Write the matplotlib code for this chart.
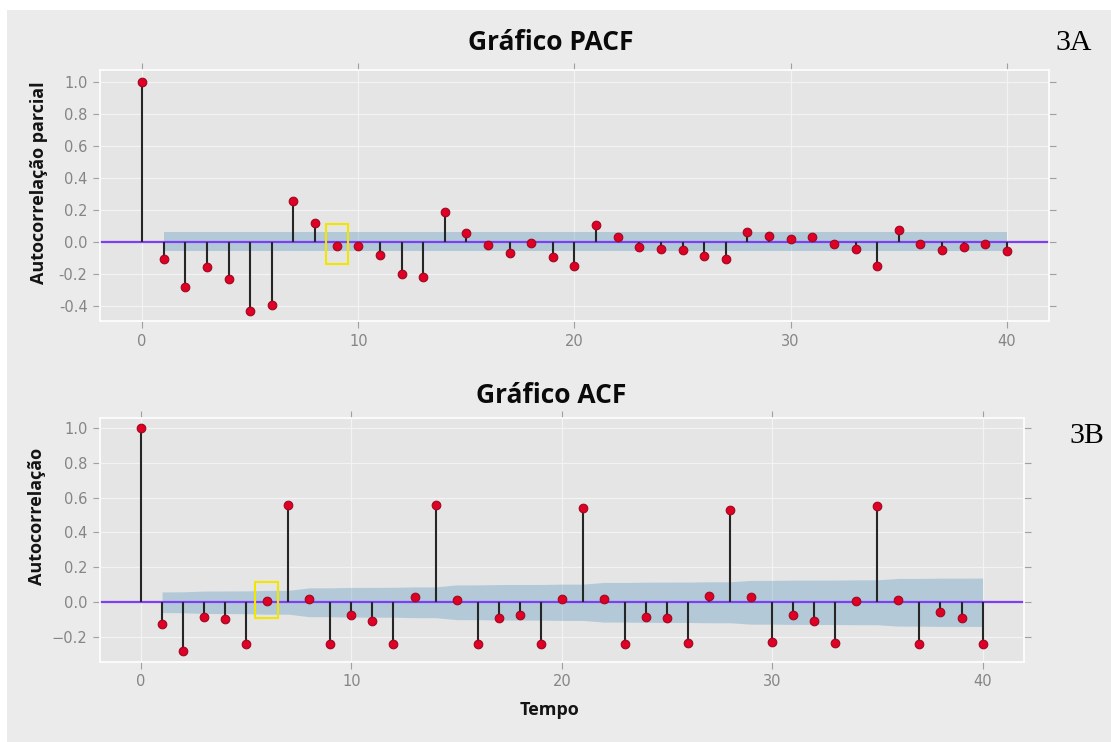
import numpy as np
import matplotlib
matplotlib.use("Agg")
import matplotlib.pyplot as plt
from matplotlib.patches import Rectangle

plt.style.use("ggplot")

# ---- data -------------------------------------------------------------
lags = list(range(0, 41))

pacf_values = [
    1.000, -0.106, -0.283, -0.160, -0.231, -0.435, -0.398, 0.256, 0.115, -0.027,
    -0.027, -0.081, -0.204, -0.221, 0.185, 0.052, -0.019, -0.071, -0.008, -0.097,
    -0.150, 0.106, 0.027, -0.035, -0.044, -0.052, -0.090, -0.106, 0.062, 0.035,
    0.017, 0.027, -0.017, -0.044, -0.150, 0.071, -0.017, -0.052, -0.035, -0.017,
    -0.060,
]

acf_values = [
    1.000, -0.122, -0.279, -0.082, -0.097, -0.240, 0.006, 0.557, 0.021, -0.240,
    -0.074, -0.105, -0.240, 0.029, 0.557, 0.013, -0.240, -0.090, -0.074, -0.240,
    0.021, 0.542, 0.021, -0.240, -0.082, -0.090, -0.233, 0.036, 0.527, 0.029,
    -0.225, -0.074, -0.105, -0.233, 0.006, 0.550, 0.013, -0.240, -0.057, -0.090,
    -0.240,
]

n_obs = 1100          # sample size used for the confidence bands
z_crit = 1.96

pacf_yticks = [-0.4, -0.2, 0.0, 0.2, 0.4, 0.6, 0.8, 1.0]
pacf_yticklabels = ["-0.4", "-0.2", "0.0", "0.2", "0.4", "0.6", "0.8", "1.0"]
acf_yticks = [-0.2, 0.0, 0.2, 0.4, 0.6, 0.8, 1.0]
acf_yticklabels = ["\u22120.2", "0.0", "0.2", "0.4", "0.6", "0.8", "1.0"]
xticks = [0, 10, 20, 30, 40]

pacf_highlight = (8.5, 9.5, -0.14, 0.11)   # x0, x1, y0, y1
acf_highlight = (5.4, 6.5, -0.092, 0.114)

# ---- confidence bands -------------------------------------------------
lag_arr = np.array(lags)
pacf_arr = np.array(pacf_values)
acf_arr = np.array(acf_values)

pacf_conf = np.full(len(lags) - 1, z_crit / np.sqrt(n_obs))
# Bartlett's formula for the ACF band
cum_sq = np.concatenate([[0.0], np.cumsum(acf_arr[1:-1] ** 2)])
acf_conf = z_crit * np.sqrt((1 + 2 * cum_sq) / n_obs)

# ---- figure -----------------------------------------------------------
W, H = 1111, 742
fig = plt.figure(figsize=(W / 100, H / 100), dpi=100, facecolor="white")
backdrop = Rectangle((7 / W, 0), 1 - 7 / W, 1 - 10 / H,
                     transform=fig.transFigure, facecolor="#ebebeb",
                     edgecolor="none", zorder=-10)
fig.add_artist(backdrop)

ax1 = fig.add_axes([100 / W, 1 - 321 / H, 949 / W, 251 / H])
ax2 = fig.add_axes([100 / W, 1 - 662 / H, 923.6 / W, 244.3 / H])

stem_color = "#262626"
dot_face = "#e10025"
dot_edge = "#9a0a22"
zero_color = "#7e3ff2"
band_color = "#1f77b4"


def draw_panel(ax, vals, conf, ylim, yticks, yticklabels):
    ax.set_facecolor("#e5e5e5")
    ax.fill_between(lag_arr[1:], -conf, conf, color=band_color, alpha=0.25,
                    linewidth=0, zorder=1)
    ax.axhline(0, color=zero_color, lw=1.6, zorder=2)
    ax.vlines(lag_arr, 0, vals, colors=stem_color, lw=1.5, zorder=3)
    ax.plot(lag_arr, vals, "o", ms=6.2, mfc=dot_face, mec=dot_edge, mew=0.8,
            zorder=4)
    ax.set_xlim(-1.95, 41.95)
    ax.set_ylim(*ylim)
    ax.set_xticks(xticks)
    ax.set_xticklabels([str(t) for t in xticks])
    ax.set_yticks(yticks)
    ax.set_yticklabels(yticklabels)
    ax.grid(True, color="#f3f3f3", lw=0.9)
    ax.set_axisbelow(True)
    for sp in ax.spines.values():
        sp.set_visible(True)
        sp.set_color("white")
        sp.set_linewidth(1.2)
    ax.tick_params(axis="both", which="both", direction="out", length=5,
                   width=0.8, color="#a0a0a0", labelcolor="#858585",
                   labelsize=10.5, top=True, right=True, labeltop=False,
                   labelright=False, pad=4)


draw_panel(ax1, pacf_arr, pacf_conf, (-0.496, 1.073), pacf_yticks,
           pacf_yticklabels)
draw_panel(ax2, acf_arr, acf_conf, (-0.342, 1.057), acf_yticks,
           acf_yticklabels)

for ax, (x0, x1, y0, y1) in ((ax1, pacf_highlight), (ax2, acf_highlight)):
    ax.add_patch(Rectangle((x0, y0), x1 - x0, y1 - y0, fill=False,
                           edgecolor="#f2e600", lw=1.5, zorder=5))

# ---- texts ------------------------------------------------------------
title_kw = dict(fontfamily="Open Sans", fontweight="bold", fontsize=19,
                color="#0a0a0a", ha="center", va="baseline")
fig.text(551 / W, 1 - 50 / H, "Gráfico PACF", **title_kw)
fig.text(551 / W, 1 - 403 / H, "Gráfico ACF", **title_kw)

label_kw = dict(fontfamily="Open Sans", fontweight="bold", fontsize=13,
                color="#141414", ha="center", va="center")
fig.text(39 / W, 1 - 182.5 / H, "Autocorrelação parcial", rotation=90,
         **label_kw)
fig.text(37.5 / W, 1 - 516.5 / H, "Autocorrelação", rotation=90, **label_kw)
fig.text(549 / W, 1 - 710 / H, "Tempo", **label_kw)

panel_kw = dict(fontfamily="Liberation Serif", fontsize=21.5, color="black",
                ha="left", va="baseline")
fig.text(1055 / W, 1 - 50 / H, "3A", **panel_kw)
fig.text(1069 / W, 1 - 443 / H, "3B", **panel_kw)

fig.savefig("out.png", dpi=100, facecolor=fig.get_facecolor())
